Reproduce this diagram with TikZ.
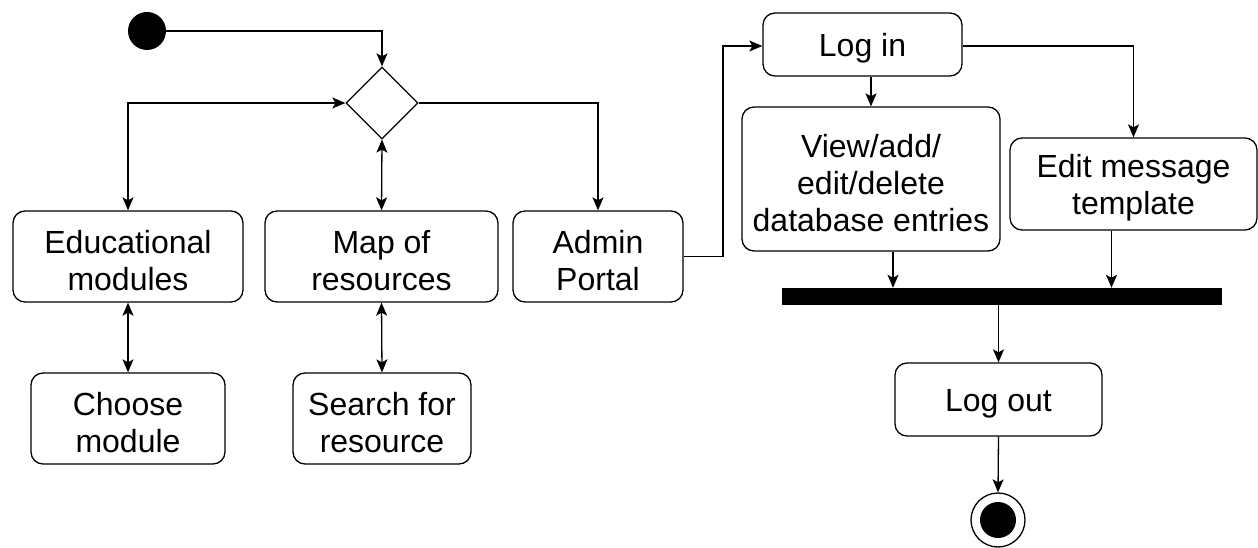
\documentclass[tikz,border=0pt]{standalone}
\usepackage{fontspec}
\setmainfont{Liberation Sans}
\usetikzlibrary{arrows.meta,shapes.geometric,calc}
\begin{document}
\begin{tikzpicture}[x=1pt,y=-1pt,
  lw/.style={line width=1.3pt},
  box/.style={draw,lw,rounded corners=12pt,inner sep=0pt},
  txt/.style={align=center,inner sep=0pt,yshift=-4pt,font=\fontsize{32}{37}\selectfont},
  conn/.style={lw,-{Stealth[length=13pt,width=11pt,inset=3pt]}},
  dconn/.style={lw,{Stealth[length=13pt,width=11pt,inset=3pt]}-{Stealth[length=13pt,width=11pt,inset=3pt]}}
]
\useasboundingbox (0,0) rectangle (1258,548);
% nodes
\node[circle,fill=black,minimum size=38pt,inner sep=0pt] (start) at (147,31) {};
\node[diamond,draw,lw,minimum width=72pt,minimum height=72pt,inner sep=0pt] (dia) at (382,103) {};
\node[box,minimum width=230pt,minimum height=91pt,label={[txt]center:{Educational\\modules}}] (edu) at (128,256.5) {};
\node[box,minimum width=233pt,minimum height=91pt,label={[txt]center:{Map of\\resources}}] (map) at (381.5,256.5) {};
\node[box,minimum width=170pt,minimum height=91pt,label={[txt]center:{Admin\\Portal}}] (admin) at (598,256.5) {};
\node[box,minimum width=194pt,minimum height=91pt,label={[txt]center:{Choose\\module}}] (choose) at (128,418.5) {};
\node[box,minimum width=178pt,minimum height=91pt,label={[txt]center:{Search for\\resource}}] (search) at (382,418.5) {};
\node[box,minimum width=199pt,minimum height=63pt,label={[txt]center:{Log in}}] (login) at (862.5,44.5) {};
\node[box,minimum width=258pt,minimum height=144pt,label={[txt]center:{View/add/\\edit/delete\\database entries}}] (view) at (871,179) {};
\node[box,minimum width=247pt,minimum height=92pt,label={[txt]center:{Edit message\\template}}] (edit) at (1133.5,184) {};
\node[fill=black,minimum width=440pt,minimum height=17pt,inner sep=0pt] (bar) at (1002,296.5) {};
\node[box,minimum width=207pt,minimum height=73pt,label={[txt]center:{Log out}}] (logout) at (998.5,399.5) {};
\node[circle,draw,lw,minimum size=54pt,inner sep=0pt] (final) at (998,520) {};
\node[circle,fill=black,minimum size=36pt,inner sep=0pt] at (final) {};
\coordinate (bend) at (723,256.5);
% connectors
\draw[conn] (start.east) -| (dia.north);
\draw[dconn] (dia.west) -| (edu.north);
\draw[dconn] (dia.south) -- (map.north);
\draw[conn] (dia.east) -| (admin.north);
\draw[dconn] (edu.south) -- (choose.north);
\draw[dconn] (map.south) -- (search.north);
\draw[conn] (admin.east) -- (bend) |- ([yshift=-1.5pt]login.west);
\draw[conn] (view.north |- login.south) -- (view.north);
\draw[conn] ([yshift=-1.5pt]login.east) -| (edit.north);
\draw[conn] ([xshift=22pt]view.south) -- ([xshift=22pt]view.south |- bar.north);
\draw[conn] ([xshift=-22pt]edit.south) -- ([xshift=-22pt]edit.south |- bar.north);
\draw[conn] (logout.north |- bar.south) -- (logout.north);
\draw[conn] (logout.south) -- (final.north);
\end{tikzpicture}
\end{document}
